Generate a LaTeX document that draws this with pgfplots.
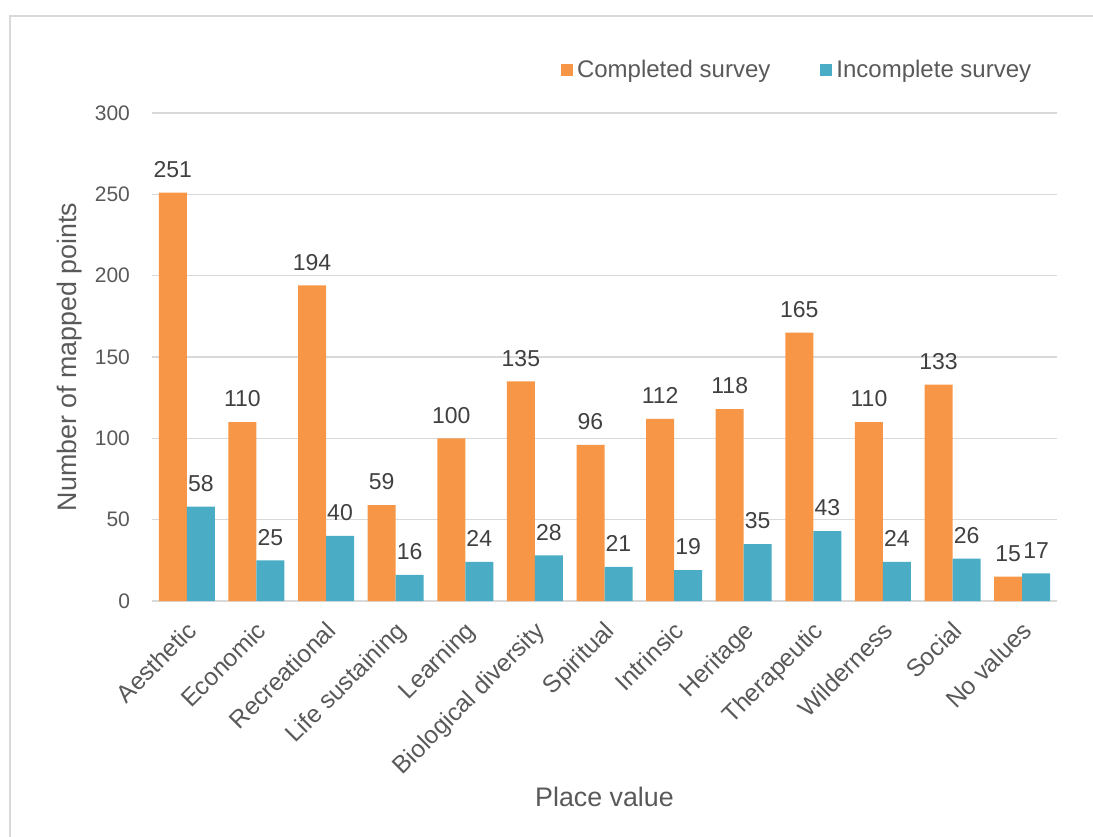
\documentclass[border=0pt]{standalone}
\usepackage{fontspec}
\setmainfont{Liberation Sans}
\usepackage{pgfplots}
\pgfplotsset{compat=1.18}
\definecolor{compl}{HTML}{F79646}
\definecolor{incompl}{HTML}{4BACC6}
\definecolor{txt}{HTML}{595959}
\definecolor{lbl}{HTML}{404040}
\definecolor{grd}{HTML}{D9D9D9}

\begin{document}
\begin{tikzpicture}
  \begin{axis}[
      scale only axis,
      width=452.5pt, height=244pt,
      xmin=-0.5, xmax=12.5,
      ymin=0, ymax=300,
      ybar=0pt, bar width=14pt,
      ytick={0,50,...,300},
      xtick=data,
      xticklabels={Aesthetic,Economic,Recreational,Life sustaining,Learning,Biological diversity,Spiritual,Intrinsic,Heritage,Therapeutic,Wilderness,Social,No values},
      major tick length=0pt,
      axis x line*=bottom,
      axis y line*=left,
      y axis line style={draw=none},
      x axis line style={grd, line width=0.75pt},
      ymajorgrids,
      grid style={grd, line width=0.75pt},
      /pgf/number format/assume math mode=true,
      yticklabel style={font=\fontsize{10.5}{12}\selectfont, text=txt, anchor=east, xshift=-7.5pt},
      xticklabel style={font=\fontsize{12.3}{14}\selectfont, text=txt, rotate=45, anchor=north east, inner sep=2pt, yshift=-4pt, xshift=-5pt},
      every axis x label/.style={at={(rel axis cs:0.5,-0.4016)}, anchor=center, font=\fontsize{13.4}{15}\selectfont, text=txt},
      every axis y label/.style={at={(rel axis cs:-0.0906,0.5)}, rotate=90, anchor=center, font=\fontsize{13.4}{15}\selectfont, text=txt},
      xlabel={Place value},
      ylabel={Number of mapped points},
      nodes near coords,
      nodes near coords style={font=\fontsize{11.5}{13}\selectfont, text=lbl, yshift=4pt},
      legend columns=2,
      legend style={at={(rel axis cs:0.983,1.088)}, anchor=east, draw=none, fill=none,
        font=\fontsize{12}{14}\selectfont, text=txt,
        /tikz/every even column/.append style={column sep=23pt}},
      legend image code/.code={\fill[#1] (-1.5pt,-3pt) rectangle (4.5pt,3pt);},
    ]
    \addplot[fill=compl, draw=none] coordinates {
      (0,251) (1,110) (2,194) (3,59) (4,100) (5,135) (6,96)
      (7,112) (8,118) (9,165) (10,110) (11,133) (12,15)
    };
    \addlegendentry{Completed survey}
    \addplot[fill=incompl, draw=none] coordinates {
      (0,58) (1,25) (2,40) (3,16) (4,24) (5,28) (6,21)
      (7,19) (8,35) (9,43) (10,24) (11,26) (12,17)
    };
    \addlegendentry{Incomplete survey}
  \end{axis}
  \draw[grd, line width=1pt] (-71pt,-124.5pt) rectangle (474pt,292.5pt);
  \pgfresetboundingbox
  \path[use as bounding box] (-76pt,-117.5pt) rectangle (470.5pt,300.5pt);
\end{tikzpicture}
\end{document}
